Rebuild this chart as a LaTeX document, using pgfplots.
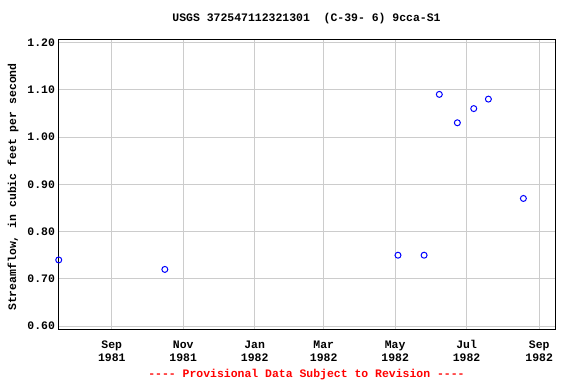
\documentclass[border=0pt]{standalone}
\usepackage{pgfplots}
\pgfplotsset{compat=1.18}
\usepackage{fontspec}
\setmainfont{Liberation Mono}
\setmonofont{Liberation Mono}
\newcommand{\lf}{\ttfamily\bfseries\fontsize{11.5}{13.7}\selectfont}
\begin{document}
\begin{tikzpicture}[x=1bp,y=1bp]
\path[use as bounding box] (0,0) rectangle (576,384);
\begin{axis}[at={(58.5bp,55bp)}, anchor=south west, scale only axis,
  width=496.5bp, height=289bp,
  xmin=-45.5, xmax=378.5, ymin=0.594, ymax=1.205,
  xtick={0,61,122,181,242,303,365},
  xticklabels={\strut Sep\\1981,\strut Nov\\1981,\strut Jan\\1982,\strut Mar\\1982,\strut May\\1982,\strut Jul\\1982,\strut Sep\\1982},
  xticklabel style={align=center, font=\lf, yshift=-6bp},
  ytick={0.6,0.7,0.8,0.9,1.0,1.1,1.2},
  yticklabel style={font=\lf, /pgf/number format/.cd, fixed, fixed zerofill, precision=2, assume math mode=true},
  grid=major, major grid style={draw=black!20, line width=0.9pt},
  major tick length=0pt,
  axis line style={black, line width=1pt},
  clip=false,
]
\addplot[only marks, mark=o, mark size=3, blue, line width=1pt] coordinates {
(-45.3,0.74) (45.3,0.72) (244.4,0.75) (266.7,0.75) (279.7,1.09) (295.1,1.03) (309.1,1.06) (321.6,1.08) (351.5,0.87)
};
\end{axis}
\node[font=\lf] at (306.5,365) {USGS 372547112321301\ \ (C-39- 6) 9cca-S1};
\node[font=\lf, rotate=90] at (13,197) {Streamflow, in cubic feet per second};
\node[font=\lf, text=red] at (306.5,9) {---- Provisional Data Subject to Revision ----};
\end{tikzpicture}
\end{document}
